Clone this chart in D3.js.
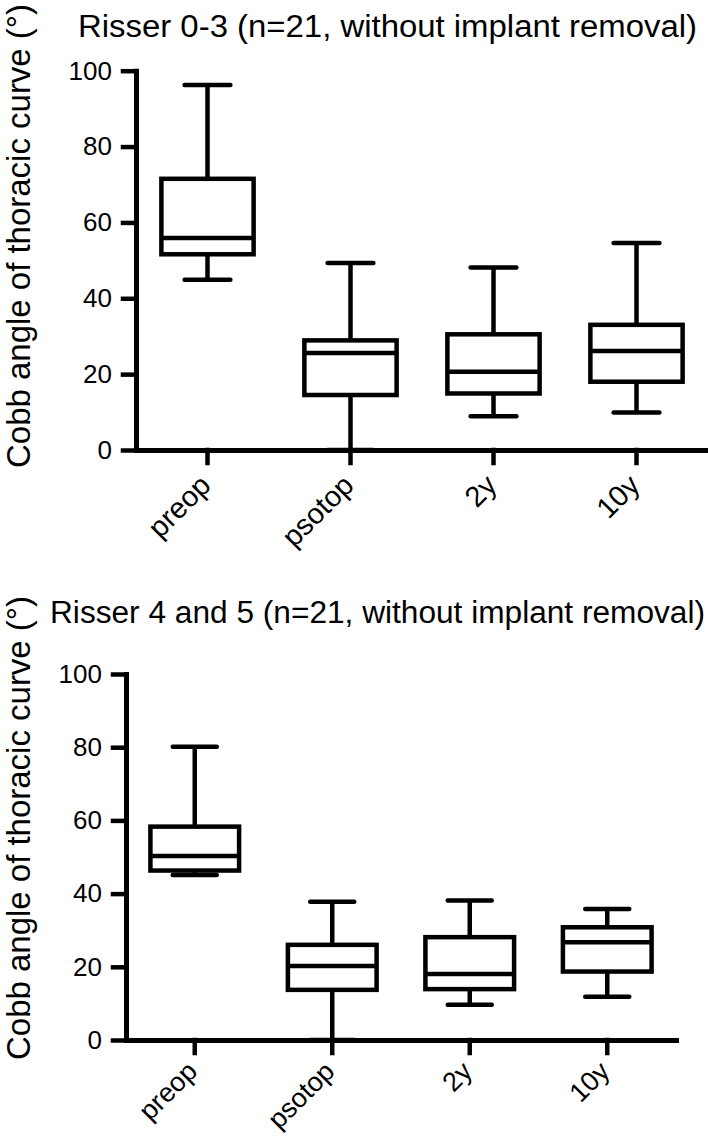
<!DOCTYPE html>
<html>
<head>
<meta charset="utf-8">
<script src="https://cdn.jsdelivr.net/npm/d3@7"></script>
<style>
  body { margin: 0; background: #fff; }
  text { font-family: Arial, "Liberation Sans", sans-serif; fill: #000; }
</style>
</head>
<body>
<svg id="chart" width="708" height="1136"></svg>
<script>
const groups = ['preop', 'psotop', '2y', '10y'];
const yTicks = [0, 20, 40, 60, 80, 100];
const yLabel = 'Cobb angle of thoracic curve (°)';

// Risser 0-3 five-number summaries
const early_min = [44.9, 0, 8.9, 9.9];
const early_q1 = [51.6, 14.5, 14.9, 18.0];
const early_med = [55.9, 25.6, 20.6, 26.1];
const early_q3 = [71.5, 28.9, 30.5, 33.0];
const early_max = [96.2, 49.3, 48.1, 54.6];

// Risser 4 and 5
const late_min = [45.1, 0, 9.6, 11.8];
const late_q1 = [46.3, 13.7, 13.9, 18.7];
const late_med = [50.3, 20.2, 18.0, 26.7];
const late_q3 = [58.3, 26.0, 28.1, 30.8];
const late_max = [80.1, 37.8, 38.1, 35.8];

const svg = d3.select('#chart');

function drawPanel(p) {
  const rows = groups.map((g, i) => ({
    group: g, min: p.min[i], q1: p.q1[i], med: p.med[i], q3: p.q3[i], max: p.max[i]
  }));

  const x = d3.scaleBand().domain(groups).range([p.left, p.right]).padding(0);
  const y = d3.scaleLinear().domain([0, 100]).range([p.bottom, p.top]);
  const boxW = x.bandwidth() * 0.645;
  const capW = x.bandwidth() * 0.32;
  const cx = d => x(d.group) + x.bandwidth() / 2;

  const g = svg.append('g');

  // title
  g.append('text')
    .attr('x', p.titleX).attr('y', p.titleY)
    .attr('font-size', 31)
    .attr('textLength', p.titleLen).attr('lengthAdjust', 'spacingAndGlyphs')
    .text(p.title);

  // y label
  g.append('text')
    .attr('transform', `translate(30, ${p.labelY}) rotate(-90)`)
    .attr('text-anchor', 'middle')
    .attr('font-size', 32.5)
    .attr('textLength', 464).attr('lengthAdjust', 'spacingAndGlyphs')
    .text(yLabel);

  const boxes = g.append('g')
    .attr('stroke', '#000').attr('stroke-width', 4.5).attr('fill', 'none');

  const b = boxes.selectAll('g').data(rows).enter().append('g');

  // whiskers + caps
  b.append('line')
    .attr('x1', cx).attr('x2', cx)
    .attr('y1', d => y(d.q3)).attr('y2', d => y(d.max));
  b.append('line')
    .attr('x1', cx).attr('x2', cx)
    .attr('y1', d => y(d.q1)).attr('y2', d => y(d.min));
  b.append('line')
    .attr('stroke-linecap', 'round')
    .attr('x1', d => cx(d) - capW / 2).attr('x2', d => cx(d) + capW / 2)
    .attr('y1', d => y(d.max)).attr('y2', d => y(d.max));
  b.append('line')
    .attr('stroke-linecap', 'round')
    .attr('x1', d => cx(d) - capW / 2).attr('x2', d => cx(d) + capW / 2)
    .attr('y1', d => y(d.min)).attr('y2', d => y(d.min));

  b.append('rect')
    .attr('fill', '#fff')
    .attr('x', d => cx(d) - boxW / 2).attr('width', boxW)
    .attr('y', d => y(d.q3)).attr('height', d => y(d.q1) - y(d.q3));
  b.append('line')
    .attr('x1', d => cx(d) - boxW / 2).attr('x2', d => cx(d) + boxW / 2)
    .attr('y1', d => y(d.med)).attr('y2', d => y(d.med));

  // axes
  const yAxis = g.append('g')
    .attr('transform', `translate(${p.left},0)`)
    .call(d3.axisLeft(y).tickValues(yTicks).tickSize(13).tickSizeOuter(0).tickPadding(11));
  const xAxis = g.append('g')
    .attr('transform', `translate(0,${p.bottom})`)
    .call(d3.axisBottom(x).tickSize(13).tickSizeOuter(0));

  [yAxis, xAxis].forEach(a => {
    a.attr('font-family', null);
    a.select('.domain').attr('stroke-width', 5).attr('stroke-linecap', 'square');
    a.selectAll('.tick line').attr('stroke-width', 4.5).attr('stroke-linecap', 'square');
  });
  yAxis.selectAll('text').attr('font-size', 26);
  xAxis.selectAll('text')
    .attr('font-size', p.xFont)
    .attr('x', 0).attr('y', 0).attr('dy', 0)
    .attr('text-anchor', 'end')
    .attr('transform', `translate(${p.xOff[0]},${p.xOff[1]}) rotate(-45)`);
}

drawPanel({
  title: 'Risser 0-3 (n=21, without implant removal)',
  titleX: 78, titleY: 37, titleLen: 619, labelY: 236,
  left: 136, right: 708, top: 70.7, bottom: 450,
  xFont: 29, xOff: [5, 37],
  min: early_min, q1: early_q1, med: early_med, q3: early_q3, max: early_max
});

drawPanel({
  title: 'Risser 4 and 5 (n=21, without implant removal)',
  titleX: 50, titleY: 623, titleLen: 655, labelY: 828,
  left: 126, right: 676, top: 674, bottom: 1040,
  xFont: 27, xOff: [4, 33],
  min: late_min, q1: late_q1, med: late_med, q3: late_q3, max: late_max
});
</script>
</body>
</html>
